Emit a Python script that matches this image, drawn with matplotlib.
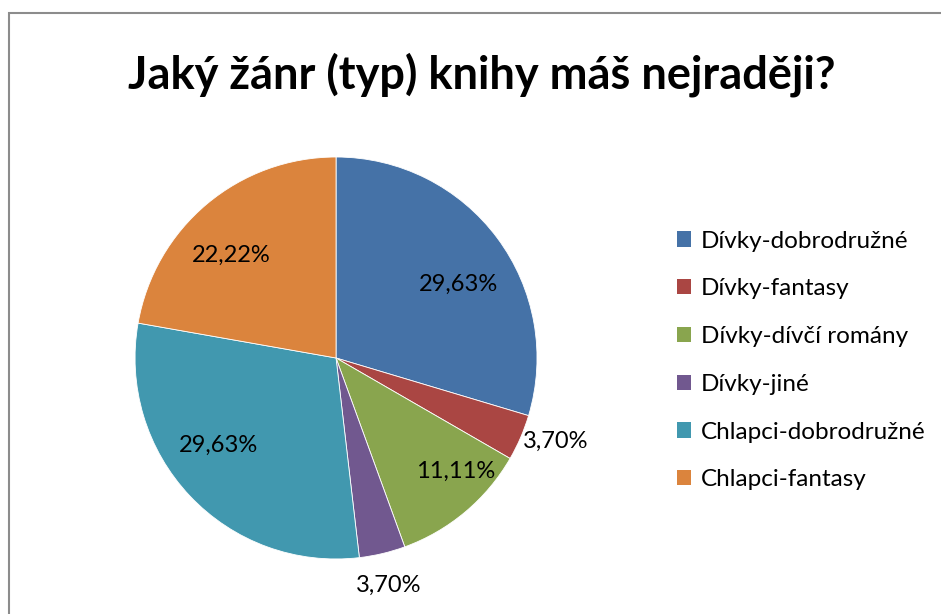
import matplotlib.pyplot as plt
import matplotlib.patches as mpatches
import numpy as np

plt.rcParams['font.family'] = ['Lato', 'DejaVu Sans']

categories = ['Dívky-dobrodružné', 'Dívky-fantasy', 'Dívky-dívčí romány',
              'Dívky-jiné', 'Chlapci-dobrodružné', 'Chlapci-fantasy']
counts = [8, 1, 3, 1, 8, 6]
colors = ['#4572A7', '#AA4643', '#89A54E', '#71588F', '#4198AF', '#DB843D']
# label placement: distance (fraction of radius) and angle shift from slice middle
label_dist = [0.71, 1.17, 0.82, 1.16, 0.73, 0.73]
label_shift = [-5.5, 2.5, 6.5, -0.2, -6.6, 5.6]

fig = plt.figure(figsize=(9.41, 6.14), dpi=100)

# chart area border (cropped at right and bottom like the original)
fig.patches.append(mpatches.Rectangle((9 / 941, -0.05), 1.0, 1 - 13 / 614 + 0.05,
                                      transform=fig.transFigure, fill=False,
                                      edgecolor='#8c8c8c', linewidth=1.5))

fig.text(0.5117, 0.878, 'Jaký žánr (typ) knihy máš nejraději?', ha='center', va='center',
         fontsize=32.5, fontweight='bold', color='#000000')

ax = fig.add_axes([0.1435, 0.0896, 0.4272, 0.6547])
wedges, _ = ax.pie(counts, colors=colors, startangle=90, counterclock=False,
                   wedgeprops=dict(edgecolor='white', linewidth=0.6))
ax.set_xlim(-1, 1)
ax.set_ylim(-1, 1)
ax.set_aspect('equal')

total = sum(counts)
for w, c, d, s in zip(wedges, counts, label_dist, label_shift):
    mid = np.deg2rad((w.theta1 + w.theta2) / 2 + s)
    pct = f'{100 * c / total:.2f}%'.replace('.', ',')
    ax.text(d * np.cos(mid), d * np.sin(mid), pct, ha='center', va='center',
            fontsize=17, color='#000000', clip_on=False)

handles = [mpatches.Patch(facecolor=col, edgecolor='none') for col in colors]
leg = fig.legend(handles, categories, loc='center left', bbox_to_anchor=(0.696, 0.413),
                 frameon=False, fontsize=17.5, handlelength=0.6, handleheight=0.6,
                 labelspacing=1.1, handletextpad=0.4)

fig.savefig('out.png', dpi=100)
